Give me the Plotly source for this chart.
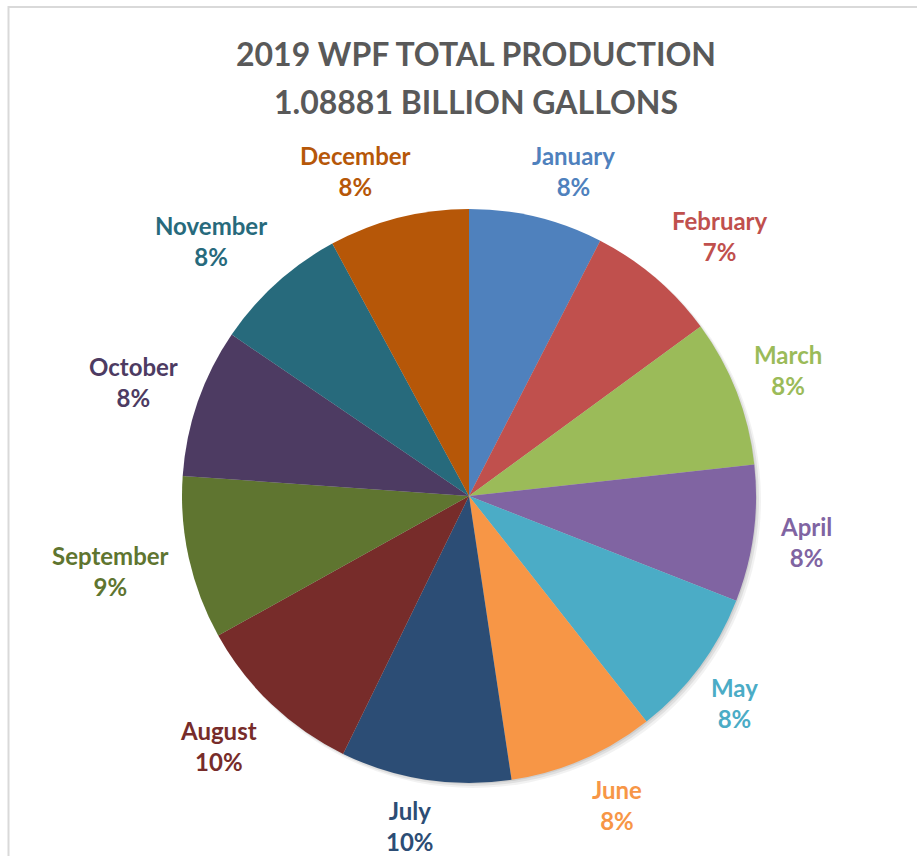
import math
import plotly.graph_objects as go

# 2019 WPF monthly production, millions of gallons (total ~1,088.81 MG)
months = ["January", "February", "March", "April", "May", "June",
          "July", "August", "September", "October", "November", "December"]
production_mg = [82.3, 80.5, 90.3, 83.8, 92.0, 89.7,
                 104.5, 105.5, 100.1, 91.4, 82.7, 86.0]
slice_colors = ["#4F81BD", "#C0504D", "#9BBB59", "#8064A2", "#4BACC6", "#F79646",
                "#2C4D75", "#772C2A", "#5F7530", "#4D3B62", "#276A7C", "#B65708"]
title_lines = ["2019 WPF TOTAL PRODUCTION", "1.08881 BILLION GALLONS"]

W, H = 917, 856
CX, CY, R = 469, 496, 287          # pie centre / radius in pixels
FONT = "Lato"


def px(x):
    return x / W


def py(y):
    return 1 - y / H


fig = go.Figure()

# soft drop shadow under the pie
for off, rad, alpha in [(4, 288, 0.05), (3, 287, 0.07), (2, 286, 0.08)]:
    fig.add_shape(type="circle", xref="paper", yref="paper", layer="below",
                  x0=px(CX + off - rad), x1=px(CX + off + rad),
                  y0=py(CY + off + rad), y1=py(CY + off - rad),
                  line=dict(width=0), fillcolor=f"rgba(0,0,0,{alpha})")

fig.add_trace(go.Pie(
    labels=months, values=production_mg, sort=False,
    direction="clockwise", rotation=0,
    marker=dict(colors=slice_colors, line=dict(width=0)),
    textinfo="none", showlegend=False,
    domain=dict(x=[px(CX - R), px(CX + R)], y=[py(CY + R), py(CY - R)]),
))

# outside data labels, placed along each slice's mid-angle
total = sum(production_mg)
cum = 0.0
for name, v, col in zip(months, production_mg, slice_colors):
    mid = (cum + v / 2) / total * 2 * math.pi
    cum += v
    ux, uy = math.sin(mid), -math.cos(mid)
    D = R + 20
    bx, by = CX + D * ux, CY + D * uy
    hw, hh = 6.5 * len(name), 27
    cx = bx + hw * max(-1, min(1, 3 * ux))
    cy = by + hh * max(-1, min(1, 1.5 * uy))
    pct = round(v / total * 100)
    fig.add_annotation(x=px(cx), y=py(cy), xref="paper", yref="paper",
                       text=f"{name}<br>{pct}%", showarrow=False,
                       xanchor="center", yanchor="middle",
                       font=dict(family=FONT, size=24, color=col, weight="bold"))

for i, line in enumerate(title_lines):
    fig.add_annotation(x=px(476), y=py(53 + 48 * i), xref="paper", yref="paper",
                       text=line, showarrow=False, xanchor="center", yanchor="middle",
                       font=dict(family=FONT, size=32, color="#595959", weight="bold"))

# chart-area frame
fig.add_shape(type="line", xref="paper", yref="paper", x0=px(8), x1=1, y0=py(7), y1=py(7),
              line=dict(color="#D9D9D9", width=2))
fig.add_shape(type="line", xref="paper", yref="paper", x0=px(8.5), x1=px(8.5), y0=py(6), y1=0,
              line=dict(color="#D9D9D9", width=2))

fig.update_layout(width=W, height=H, margin=dict(l=0, r=0, t=0, b=0),
                  paper_bgcolor="white", plot_bgcolor="white")

fig.write_html("out.html")
